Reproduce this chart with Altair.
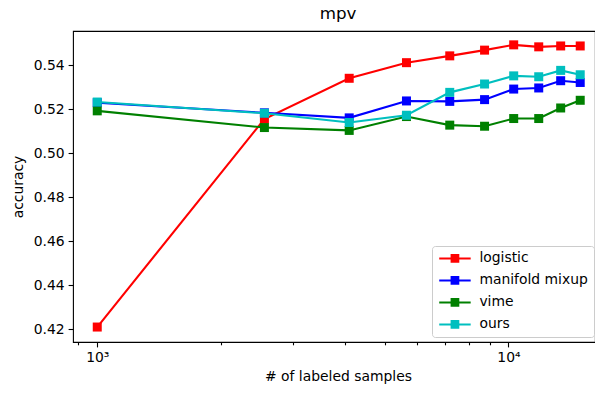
import altair as alt
import pandas as pd

samples = [1000, 2550, 4100, 5650, 7200, 8750, 10300, 11850, 13400, 14950]
logistic = [0.4209, 0.5155, 0.5340, 0.5411, 0.5442, 0.5468, 0.5492, 0.5483, 0.5487, 0.5487]
manifold_mixup = [0.5229, 0.5183, 0.5160, 0.5237, 0.5235, 0.5243, 0.5291, 0.5296, 0.5329, 0.5321]
vime = [0.5192, 0.5116, 0.5103, 0.5166, 0.5127, 0.5122, 0.5157, 0.5157, 0.5205, 0.5240]
ours = [0.5232, 0.5181, 0.5139, 0.5172, 0.5276, 0.5314, 0.5351, 0.5347, 0.5376, 0.5356]

series_names = ["logistic", "manifold mixup", "vime", "ours"]
series_colors = ["#ff0000", "#0000ff", "#008000", "#00bfbf"]
y_ticks = [0.42, 0.44, 0.46, 0.48, 0.50, 0.52, 0.54]
x_ticks = [900, 1000, 2000, 3000, 4000, 5000, 6000, 7000, 8000, 9000, 10000]

rows = []
for name, vals in zip(series_names, [logistic, manifold_mixup, vime, ours]):
    for s, v in zip(samples, vals):
        rows.append({"samples": s, "accuracy": v, "method": name})
df = pd.DataFrame(rows)

FONT = "DejaVu Sans"

x_enc = alt.X(
    "samples:Q",
    scale=alt.Scale(type="log", domain=[873, 16240], nice=False),
    axis=alt.Axis(
        values=x_ticks,
        labelExpr="datum.value == 1000 ? '10³' : (datum.value == 10000 ? '10⁴' : '')",
        tickSize={"condition": {"test": "datum.value == 1000 || datum.value == 10000", "value": 4.9}, "value": 2.8},
        labelPadding=4,
        title="# of labeled samples",
        titleX=265,
        titlePadding=5,
        grid=False,
    ),
)
y_enc = alt.Y(
    "accuracy:Q",
    scale=alt.Scale(domain=[0.4141, 0.5555], nice=False, zero=False),
    axis=alt.Axis(
        values=y_ticks,
        format=".2f",
        tickSize=4.9,
        labelPadding=4,
        title="accuracy",
        titlePadding=8,
        grid=False,
    ),
)
color_scale = alt.Scale(domain=series_names, range=series_colors)

# legend glyph: a line with a square marker in the middle
legend = alt.Legend(
    title=None,
    orient="none",
    legendX=359,
    legendY=215,
    symbolType="M-3,-0.2H3V0.2H-3Z M-0.83,-0.83H0.83V0.83H-0.83Z",
    symbolSize=110,
    symbolStrokeWidth=0,
    symbolOpacity=1,
    symbolOffset=10.5,
    labelFont=FONT,
    labelFontSize=13.9,
    labelColor="black",
    labelOffset=17.5,
    padding=5.5,
    rowPadding=7,
    fillColor="rgba(255,255,255,0.8)",
    strokeColor="#cccccc",
    cornerRadius=3,
)

base = alt.Chart(df).encode(x=x_enc, y=y_enc)

layers = []
for name, col in zip(series_names, series_colors):
    sub = base.transform_filter(alt.datum.method == name)
    line = sub.mark_line(strokeWidth=2.1, color=col)
    pts = sub.mark_square(size=81, opacity=1).encode(
        color=alt.Color("method:N", scale=color_scale, legend=legend)
    )
    layers += [line, pts]

chart = (
    alt.layer(*layers)
    .properties(
        width=522,
        height=311,
        autosize=alt.AutoSizeParams(type="none"),
        padding={"left": 73, "top": 31, "right": 0, "bottom": 54},
        background="white",
        title=alt.TitleParams(
            "mpv", font=FONT, fontSize=16.7, fontWeight="normal", color="black",
            anchor="middle", dx=4, offset=8,
        ),
    )
    .configure_view(stroke="black", strokeWidth=1.1)
    .configure_axis(
        domain=False,
        tickColor="black",
        tickWidth=1.1,
        labelFont=FONT,
        labelFontSize=13.9,
        labelColor="black",
        titleFont=FONT,
        titleFontSize=13.9,
        titleFontWeight="normal",
        titleColor="black",
    )
)

chart.save("out.html", embed_options={"renderer": "svg", "actions": False})
